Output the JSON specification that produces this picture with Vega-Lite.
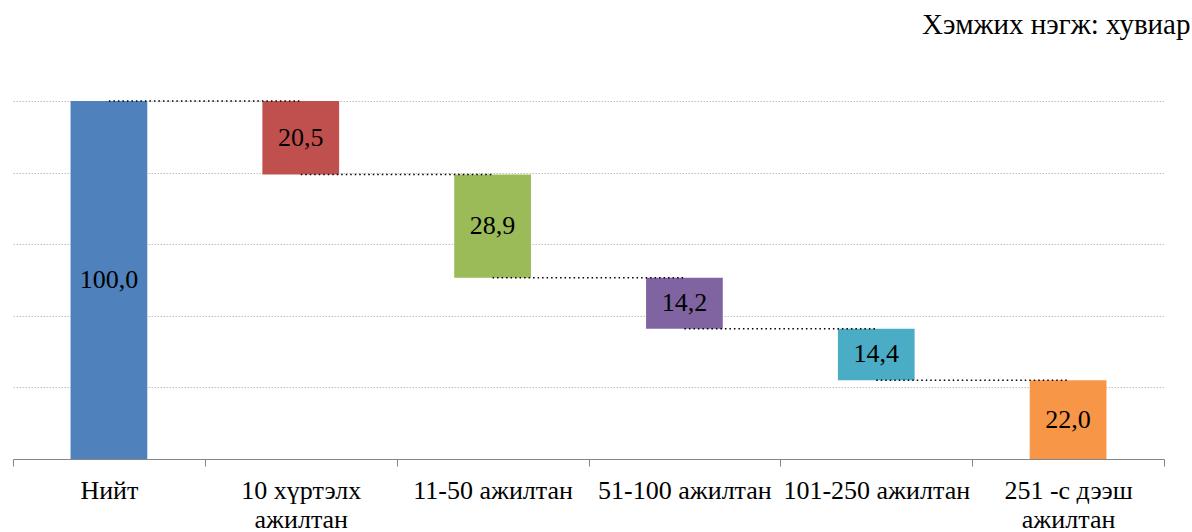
{
  "$schema": "https://vega.github.io/schema/vega-lite/v6.json",
  "width": 1151,
  "height": 358,
  "autosize": "none",
  "padding": {"left": 13, "top": 101, "right": 28, "bottom": 73},
  "config": {"view": {"stroke": null}, "font": "Liberation Serif"},
  "title": {
    "text": "Хэмжих нэгж: хувиар",
    "anchor": "end",
    "dx": 26,
    "offset": 60,
    "fontSize": 29,
    "fontWeight": "normal",
    "color": "black",
    "font": "Liberation Serif"
  },
  "datasets": {
    "bars": [
      {"cat": "Нийт", "start": 0, "end": 100, "value": "100,0"},
      {"cat": "10 хүртэлх|ажилтан", "start": 79.5, "end": 100, "value": "20,5"},
      {"cat": "11-50 ажилтан", "start": 50.6, "end": 79.5, "value": "28,9"},
      {"cat": "51-100 ажилтан", "start": 36.4, "end": 50.6, "value": "14,2"},
      {"cat": "101-250 ажилтан", "start": 22.0, "end": 36.4, "value": "14,4"},
      {"cat": "251 -с дээш|ажилтан", "start": 0, "end": 22.0, "value": "22,0"}
    ],
    "conn": [
      {"from": "Нийт", "to": "10 хүртэлх|ажилтан", "level": 100},
      {"from": "10 хүртэлх|ажилтан", "to": "11-50 ажилтан", "level": 79.5},
      {"from": "11-50 ажилтан", "to": "51-100 ажилтан", "level": 50.6},
      {"from": "51-100 ажилтан", "to": "101-250 ажилтан", "level": 36.4},
      {"from": "101-250 ажилтан", "to": "251 -с дээш|ажилтан", "level": 22.0}
    ]
  },
  "layer": [
    {
      "data": {"name": "bars"},
      "mark": {"type": "bar", "width": {"band": 0.4}},
      "encoding": {
        "x": {
          "field": "cat",
          "type": "nominal",
          "sort": null,
          "scale": {
            "domain": ["Нийт", "10 хүртэлх|ажилтан", "11-50 ажилтан", "51-100 ажилтан", "101-250 ажилтан", "251 -с дээш|ажилтан"],
            "paddingInner": 0,
            "paddingOuter": 0
          },
          "axis": {
            "title": null,
            "labelAngle": 0,
            "tickBand": "extent",
            "domainColor": "#868686",
            "tickColor": "#868686",
            "tickSize": 7,
            "labelFont": "Liberation Serif",
            "labelFontSize": 26,
            "labelColor": "black",
            "labelPadding": 11,
            "labelBaseline": "top",
            "labelLimit": 0,
            "labelOverlap": false,
            "labelExpr": "split(datum.label, '|')",
            "labelLineHeight": 29,
            "grid": false
          }
        },
        "y": {
          "field": "start",
          "type": "quantitative",
          "scale": {"domain": [0, 100], "nice": false},
          "axis": {
            "title": null,
            "labels": false,
            "ticks": false,
            "domain": false,
            "grid": true,
            "values": [20, 40, 60, 80, 100],
            "gridColor": "#bfbfbf",
            "gridDash": [1.5, 1.5],
            "gridWidth": 1.2
          }
        },
        "y2": {"field": "end"},
        "color": {
          "field": "cat",
          "type": "nominal",
          "sort": null,
          "scale": {
            "domain": ["Нийт", "10 хүртэлх|ажилтан", "11-50 ажилтан", "51-100 ажилтан", "101-250 ажилтан", "251 -с дээш|ажилтан"],
            "range": ["#4F81BD", "#C0504D", "#9BBB59", "#8064A2", "#4BACC6", "#F79646"]
          },
          "legend": null
        }
      }
    },
    {
      "data": {"name": "conn"},
      "mark": {"type": "rule", "color": "black", "strokeWidth": 1.5, "strokeDash": [1.5, 3]},
      "encoding": {
        "x": {"field": "from", "type": "nominal", "sort": null},
        "x2": {"field": "to"},
        "y": {"field": "level", "type": "quantitative"}
      }
    },
    {
      "data": {"name": "bars"},
      "transform": [{"calculate": "(datum.start + datum.end) / 2", "as": "mid"}],
      "mark": {"type": "text", "font": "Liberation Serif", "fontSize": 26, "color": "black", "baseline": "middle"},
      "encoding": {
        "x": {"field": "cat", "type": "nominal", "sort": null},
        "y": {"field": "mid", "type": "quantitative"},
        "text": {"field": "value"}
      }
    }
  ]
}
